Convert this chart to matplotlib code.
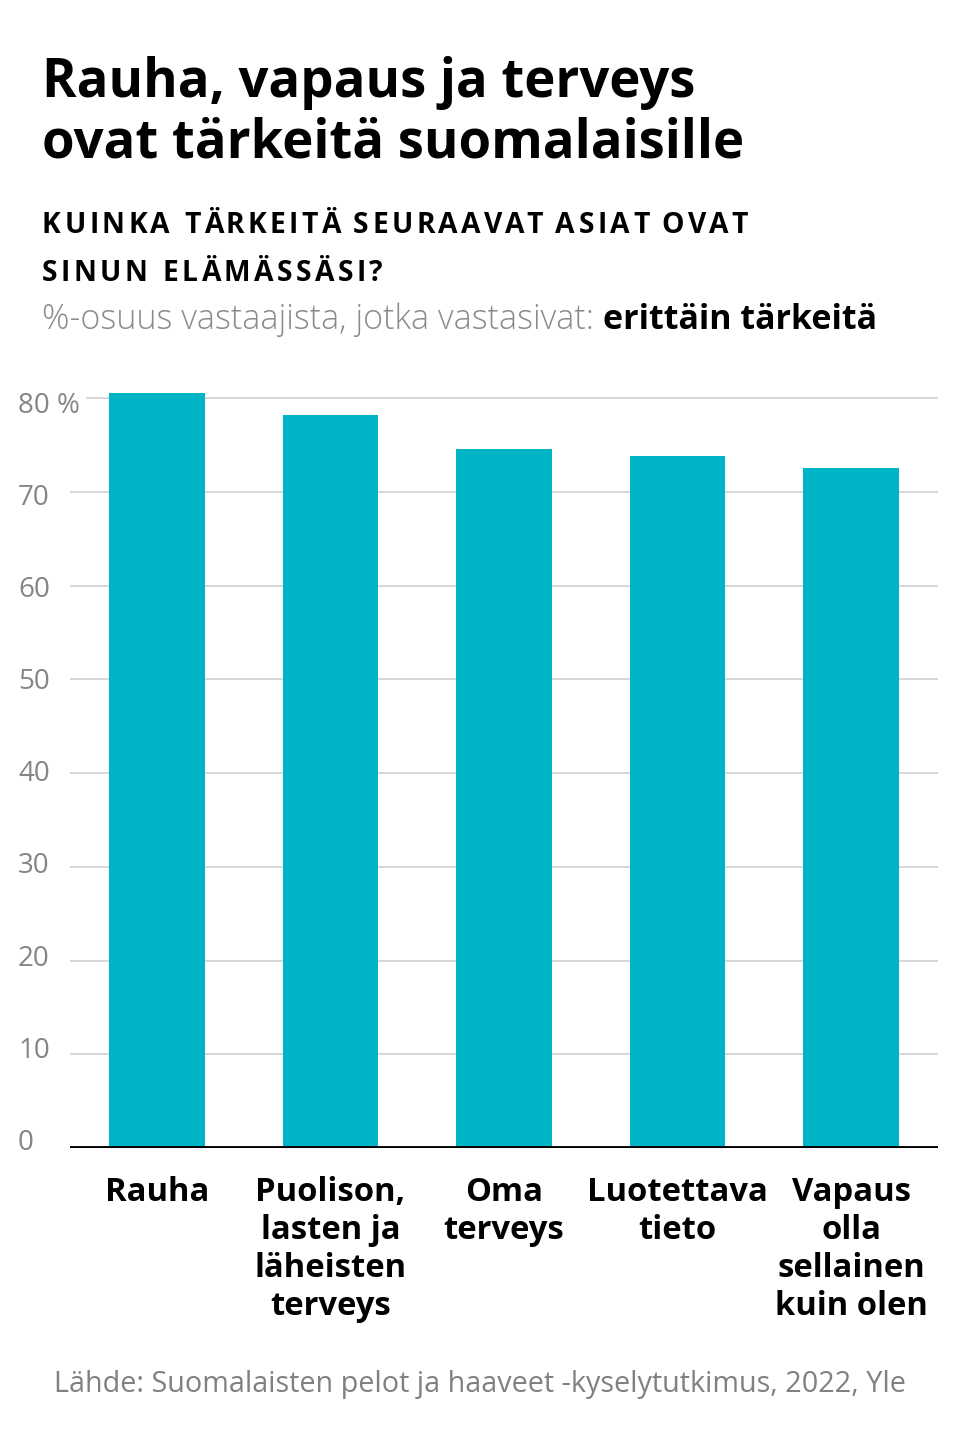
import matplotlib
matplotlib.use("Agg")
import matplotlib.pyplot as plt
from matplotlib.font_manager import FontProperties

categories = ["Rauha", "Puolison,\nlasten ja\nläheisten\nterveys", "Oma\nterveys",
              "Luotettava\ntieto", "Vapaus\nolla\nsellainen\nkuin olen"]
values = [80.5, 78.2, 74.6, 73.8, 72.5]
yticks = [0, 10, 20, 30, 40, 50, 60, 70, 80]
ytick_labels = ["0", "10", "20", "30", "40", "50", "60", "70", "80 %"]

W, H = 959, 1440
plt.rcParams['font.family'] = ['Open Sans', 'DejaVu Sans']
fig = plt.figure(figsize=(W / 100, H / 100), dpi=100)

ymax = 82
left, right, bottom = 70, 938, 1148
top = bottom - ymax * 9.375
ax = fig.add_axes([left / W, 1 - bottom / H, (right - left) / W, (bottom - top) / H])
ax.set_ylim(0, ymax)
ax.set_xlim(-0.5, len(categories) - 0.5)

color = "#00B4C8"
ax.bar(range(len(categories)), values, width=0.55, color=color, zorder=2)

blend = matplotlib.transforms.blended_transform_factory(fig.transFigure, ax.transData)
tr = ax.get_yaxis_transform()
for t, lab in zip(yticks, ytick_labels):
    if t > 0:
        xmin = 0.019 if t == 80 else 0.0
        ax.hlines(t, xmin, 1.0, transform=tr, color="#cccccc", lw=1.1, zorder=1)
    fig.text(18 / W, 0.55 + t * 0.9827, lab, fontsize=20, color="#858585",
             ha="left", va="center", transform=blend)

ax.axhline(0, color="black", lw=3.5, zorder=3)
for s in ax.spines.values():
    s.set_visible(False)
ax.set_yticks([])
ax.set_xticks(range(len(categories)))
ax.set_xticklabels(categories, fontsize=23.6, fontweight="bold", color="black",
                   linespacing=1.2, va="top", ha="center")
ax.tick_params(axis="x", length=0, pad=20)

fig.canvas.draw()
r = fig.canvas.get_renderer()


def tracked(x_px, y_px, s, size, weight, track_px, color="black"):
    fp = FontProperties(family="Open Sans", size=size, weight=weight)

    def w(txt):
        return r.get_text_width_height_descent(txt, fp, ismath=False)[0]

    ref_w = w("H")
    for i, ch in enumerate(s):
        if ch == " ":
            continue
        off = (w(s[:i] + "H") - ref_w) if i > 0 else 0.0
        fig.text((x_px + off + i * track_px) / W, 1 - y_px / H, ch, fontproperties=fp,
                 color=color, ha="left", va="baseline")


# Titles
fig.text(42 / W, 1 - 97 / H, "Rauha, vapaus ja terveys", fontsize=37.9, fontweight="bold",
         color="black", ha="left", va="baseline")
fig.text(42 / W, 1 - 158 / H, "ovat tärkeitä suomalaisille", fontsize=37.9, fontweight="bold",
         color="black", ha="left", va="baseline")
tracked(42, 233, "KUINKA TÄRKEITÄ SEURAAVAT ASIAT OVAT", 20.3, "bold", 3.45)
tracked(42, 281, "SINUN ELÄMÄSSÄSI?", 20.3, "bold", 3.45)

t1 = fig.text(42 / W, 1 - 329 / H, "%-osuus vastaajista, jotka vastasivat: ", fontsize=24.45,
              fontweight="light", color="#8a8a8a", ha="left", va="baseline")
fig.canvas.draw()
bb = t1.get_window_extent(renderer=r)
fig.text(bb.x1 / W, 1 - 329 / H, "erittäin tärkeitä", fontsize=24.45, fontweight="bold",
         color="black", ha="left", va="baseline")

fig.text(480 / W, 1 - 1392 / H, "Lähde: Suomalaisten pelot ja haaveet -kyselytutkimus, 2022, Yle",
         fontsize=20.7, color="#808080", ha="center", va="baseline")

fig.savefig("out.png", dpi=100, facecolor="white")
